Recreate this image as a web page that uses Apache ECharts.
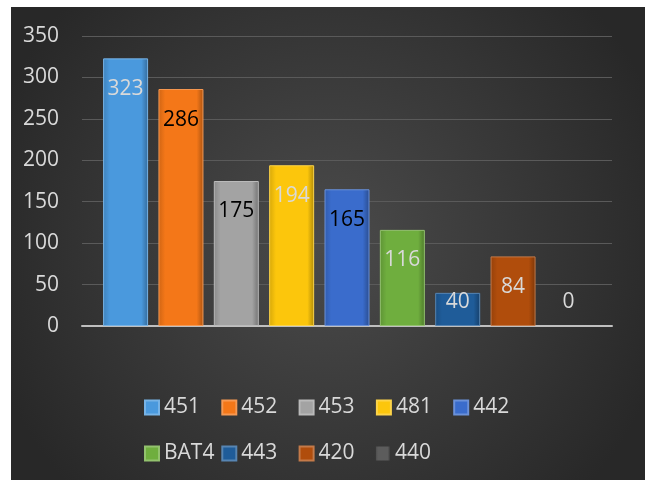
<!DOCTYPE html>
<html>
<head>
<meta charset="utf-8">
<script src="https://cdn.jsdelivr.net/npm/echarts@6/dist/echarts.min.js"></script>
<style>
  html, body { margin: 0; padding: 0; background: #fff; }
  #chart { position: absolute; left: 11px; top: 7px; width: 634px; height: 473px; }
</style>
</head>
<body>
<div id="chart"></div>
<script>
var names = ['451', '452', '453', '481', '442', 'BAT4', '443', '420', '440'];
var values = [323, 286, 175, 194, 165, 116, 40, 84, 0];
var colors = ['#4a99dd', '#f47718', '#a3a3a3', '#fcc60c', '#3a6ccc', '#6fae3e', '#1f5c99', '#b04d0c', '#5c5c5c'];
var labelColors = ['#d9d9d9', '#000', '#000', '#d9d9d9', '#000', '#d9d9d9', '#d9d9d9', '#d9d9d9', '#d9d9d9'];
var yTicks = { min: 0, max: 350, interval: 50 };

function shade(hex, f) {
  var n = parseInt(hex.slice(1), 16);
  var r = (n >> 16) & 255, g = (n >> 8) & 255, b = n & 255;
  function c(v) { return Math.max(0, Math.min(255, Math.round(f > 0 ? v + (255 - v) * f : v * (1 + f)))); }
  return 'rgb(' + c(r) + ',' + c(g) + ',' + c(b) + ')';
}

var chart = echarts.init(document.getElementById('chart'));
var font = '"Open Sans", sans-serif';

var series = names.map(function (name, i) {
  var small = values[i] < 60;
  return {
    name: name,
    type: 'bar',
    barWidth: 45,
    barGap: '23%',
    itemStyle: {
      color: {
        type: 'linear', x: 0, y: 0, x2: 1, y2: 0,
        colorStops: [
          { offset: 0, color: shade(colors[i], -0.15) },
          { offset: 0.15, color: colors[i] },
          { offset: 0.85, color: colors[i] },
          { offset: 1, color: shade(colors[i], -0.3) }
        ]
      },
      borderColor: shade(colors[i], 0.25),
      borderWidth: values[i] > 0 ? 1 : 0
    },
    label: {
      show: true,
      position: small ? 'insideBottom' : 'insideTop',
      distance: small ? 13 : 20,
      color: labelColors[i],
      fontFamily: font,
      fontSize: 21
    },
    data: [values[i]]
  };
});

// one legend per item so they sit on a fixed grid like the original
var legends = names.map(function (name, i) {
  var row = i < 5 ? 0 : 1;
  var col = row ? i - 5 : i;
  return {
    data: [name],
    left: 128 + col * 77.3,
    top: row ? 431 : 385,
    itemWidth: 14, itemHeight: 14,
    icon: 'rect',
    textStyle: { color: '#d9d9d9', fontFamily: font, fontSize: 21 }
  };
});

chart.setOption({
  backgroundColor: {
    type: 'radial', x: 0.5, y: 0.5, r: 0.75,
    colorStops: [
      { offset: 0, color: '#4b4b4b' },
      { offset: 1, color: '#282828' }
    ]
  },
  animation: false,
  grid: { left: 71, top: 29, width: 530, height: 290 },
  legend: legends,
  xAxis: {
    type: 'category',
    data: [''],
    axisTick: { show: false },
    axisLabel: { show: false },
    axisLine: { lineStyle: { color: '#bfbfbf', width: 2 } }
  },
  yAxis: {
    type: 'value',
    min: yTicks.min,
    max: yTicks.max,
    interval: yTicks.interval,
    axisLine: { show: false },
    axisTick: { show: false },
    axisLabel: { color: '#d9d9d9', fontFamily: font, fontSize: 21, margin: 23 },
    splitLine: { lineStyle: { color: '#5a5a5a', width: 1 } }
  },
  series: series
});
</script>
</body>
</html>
